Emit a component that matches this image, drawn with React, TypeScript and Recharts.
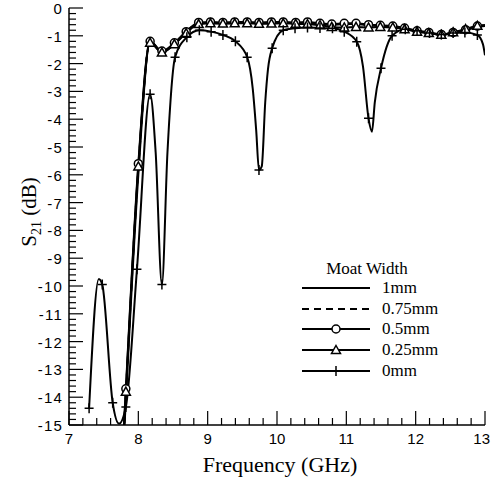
import React from 'react';
import { ComposedChart, Line, XAxis, YAxis } from 'recharts';

// frequency grid shared by the four wide-moat curves (GHz)
const MAIN_FREQ = [
  7.78, 7.82, 8.0, 8.17, 8.34, 8.52, 8.69, 8.87, 9.04, 9.22, 9.39, 9.57, 9.74, 9.92, 10.09, 10.27,
  10.44, 10.62, 10.79, 10.97, 11.14, 11.32, 11.49, 11.67, 11.84, 12.02, 12.19, 12.37, 12.54, 12.72, 12.89, 13.0,
];

const S21_1MM = [
  -16.0, -14.1, -6.0, -1.22, -1.6, -1.3, -0.88, -0.56, -0.54, -0.55, -0.54, -0.53, -0.55, -0.54, -0.53, -0.55,
  -0.55, -0.58, -0.6, -0.58, -0.58, -0.62, -0.65, -0.68, -0.75, -0.85, -0.9, -0.97, -0.9, -0.8, -0.68, -0.65,
];
const S21_075MM = [
  -15.8, -13.9, -5.8, -1.2, -1.58, -1.28, -0.86, -0.54, -0.52, -0.53, -0.52, -0.52, -0.53, -0.52, -0.52, -0.53,
  -0.52, -0.56, -0.59, -0.56, -0.57, -0.61, -0.63, -0.66, -0.74, -0.83, -0.89, -0.96, -0.89, -0.79, -0.66, -0.63,
];
const S21_05MM = [
  -15.6, -13.7, -5.6, -1.2, -1.55, -1.25, -0.85, -0.52, -0.5, -0.52, -0.5, -0.5, -0.52, -0.5, -0.5, -0.52,
  -0.5, -0.55, -0.58, -0.55, -0.55, -0.6, -0.62, -0.65, -0.72, -0.82, -0.88, -0.95, -0.88, -0.78, -0.65, -0.62,
];
const S21_025MM = [
  -15.7, -13.8, -5.7, -1.25, -1.6, -1.3, -0.9, -0.58, -0.55, -0.56, -0.55, -0.55, -0.57, -0.56, -0.55, -0.57,
  -0.58, -0.62, -0.68, -0.7, -0.68, -0.7, -0.68, -0.7, -0.76, -0.85, -0.9, -0.96, -0.87, -0.76, -0.64, -0.62,
];

// 0mm: sampled points (drawn with markers) and extra points on the notches
const FREQ_0MM = [
  7.29, 7.48, 7.63, 7.82, 7.98, 8.17, 8.34, 8.53, 8.7, 8.88, 9.05, 9.22, 9.4, 9.57, 9.74, 9.93, 10.09,
  10.26, 10.44, 10.62, 10.8, 10.97, 11.15, 11.32, 11.5, 11.66, 11.85, 12.02, 12.2, 12.37, 12.54, 12.71, 12.89,
];
const S21_0MM = [
  -14.4, -9.95, -14.2, -14.35, -9.4, -3.1, -9.95, -1.77, -1.05, -0.8, -0.85, -0.97, -1.2, -1.77, -5.83, -1.45, -0.8,
  -0.73, -0.7, -0.72, -0.73, -0.85, -1.21, -3.97, -2.17, -1.0, -0.76, -0.82, -0.9, -0.95, -0.9, -0.88, -0.97,
];
const FREQ_0MM_EXTRA = [7.43, 7.72, 8.25, 8.42, 9.65, 9.7, 9.78, 9.83, 9.87, 11.24, 11.37, 11.41, 12.97, 13.0];
const S21_0MM_EXTRA = [-9.75, -14.95, -5.2, -5.2, -2.9, -4.4, -5.7, -3.4, -2.2, -2.1, -4.45, -3.4, -1.3, -1.7];

const FREQ_TICKS = [7, 8, 9, 10, 11, 12, 13];
const S21_TICKS = [0, -1, -2, -3, -4, -5, -6, -7, -8, -9, -10, -11, -12, -13, -14, -15];

const LEGEND_TITLE = 'Moat Width';
const LABELS = ['1mm', '0.75mm', '0.5mm', '0.25mm', '0mm'];

type Pt = { f: number; v: number };
const zip = (fs: number[], vs: number[]): Pt[] => fs.map((f, i) => ({ f, v: vs[i] }));

const mainSeries = [S21_1MM, S21_075MM, S21_05MM, S21_025MM].map((vals) => zip(MAIN_FREQ, vals));
const zeroMarks = zip(FREQ_0MM, S21_0MM);
const zeroCurve = [...zeroMarks, ...zip(FREQ_0MM_EXTRA, S21_0MM_EXTRA)].sort((a, b) => a.f - b.f);

// minor ticks every 0.2 between the majors
const withMinor = (majors: number[]) => {
  const out: number[] = [];
  majors.forEach((m, i) => {
    out.push(m);
    if (i < majors.length - 1) {
      const step = (majors[i + 1] - m) / 5;
      for (let k = 1; k < 5; k++) out.push(+(m + k * step).toFixed(3));
    }
  });
  return out;
};
const xTicks = withMinor(FREQ_TICKS);
const yTicks = withMinor(S21_TICKS);

const isMajor = (v: number) => Math.abs(v - Math.round(v)) < 1e-6;
const TICK_FONT = 'Liberation Sans, Arial, sans-serif';
const SERIF = 'Liberation Serif, Times New Roman, serif';

const YTick = (props: any) => {
  const { x, y, payload } = props;
  const major = isMajor(payload.value);
  return (
    <g>
      <line x1={x} x2={x + (major ? 14 : 7)} y1={y} y2={y} stroke="#000" strokeWidth={1.2} />
      {major && (
        <text x={x - 6} y={y + 6} textAnchor="end" fontFamily={TICK_FONT} fontSize={15} letterSpacing={1.2} fill="#000">
          {payload.value}
        </text>
      )}
    </g>
  );
};

const XTick = (props: any) => {
  const { x, y, payload } = props;
  const major = isMajor(payload.value);
  const last = payload.value === FREQ_TICKS[FREQ_TICKS.length - 1];
  return (
    <g>
      <line x1={x} x2={x} y1={y} y2={y - (major ? 14 : 7)} stroke="#000" strokeWidth={1.2} />
      {major && (
        <text x={last ? x + 5 : x} y={y + 19} textAnchor={last ? 'end' : 'middle'} fontFamily={TICK_FONT} fontSize={15} fill="#000">
          {payload.value}
        </text>
      )}
    </g>
  );
};

const Circle = ({ cx, cy }: { cx: number; cy: number }) => (
  <circle cx={cx} cy={cy} r={4} fill="#fff" stroke="#000" strokeWidth={1.5} />
);
const Triangle = ({ cx, cy }: { cx: number; cy: number }) => (
  <path d={`M${cx},${cy - 4.5} L${cx + 4.5},${cy + 3.5} L${cx - 4.5},${cy + 3.5} Z`} fill="#fff" stroke="#000" strokeWidth={1.5} />
);
const Plus = ({ cx, cy }: { cx: number; cy: number }) => (
  <path d={`M${cx - 4.5},${cy} H${cx + 4.5} M${cx},${cy - 5} V${cy + 5}`} stroke="#000" strokeWidth={1.5} fill="none" />
);

const markerDot = (Shape: React.FC<{ cx: number; cy: number }>, skipEnds: boolean, n: number) => (p: any) => {
  if (skipEnds && (p.index === 0 || p.index === n - 1)) return <g key={p.index} />;
  if (p.cy == null || p.cy > 426) return <g key={p.index} />;
  return <Shape key={p.index} cx={p.cx} cy={p.cy} />;
};

const Legend = () => {
  const rows = [288, 309, 329, 350, 371];
  const shapes = [null, null, Circle, Triangle, Plus];
  return (
    <svg width={491} height={482} style={{ position: 'absolute', left: 0, top: 0, pointerEvents: 'none' }}>
      <text x={367} y={274} textAnchor="middle" fontFamily={SERIF} fontSize={17}>
        {LEGEND_TITLE}
      </text>
      {LABELS.map((label, i) => {
        const S = shapes[i];
        return (
          <g key={label}>
            <line x1={302} x2={370} y1={rows[i]} y2={rows[i]} stroke="#000" strokeWidth={2}
              strokeDasharray={i === 1 ? '7 5' : undefined} />
            {S && <S cx={336} cy={rows[i]} />}
            <text x={382} y={rows[i] + 5} fontFamily={SERIF} fontSize={17}>
              {label}
            </text>
          </g>
        );
      })}
    </svg>
  );
};

export default function App() {
  const n = MAIN_FREQ.length;
  return (
    <div style={{ position: 'relative', width: 491, height: 482 }}>
      <style>{'body{margin:0}'}</style>
      <ComposedChart width={491} height={482} margin={{ top: 8, right: 6, left: 0, bottom: 0 }}>
        <XAxis
          type="number"
          dataKey="f"
          domain={[7, 13]}
          ticks={xTicks}
          interval={0}
          allowDataOverflow
          height={57}
          tickSize={0}
          tickMargin={0}
          tickLine={false}
          tick={<XTick />}
          axisLine={{ stroke: '#000', strokeWidth: 1.5 }}
        />
        <YAxis
          type="number"
          dataKey="v"
          domain={[-15, 0]}
          ticks={yTicks}
          interval={0}
          allowDataOverflow
          width={69}
          tickSize={0}
          tickMargin={0}
          tickLine={false}
          tick={<YTick />}
          axisLine={{ stroke: '#000', strokeWidth: 1.5 }}
        />
        <Line data={mainSeries[0]} dataKey="v" type="monotone" stroke="#000" strokeWidth={2} dot={false} isAnimationActive={false} />
        <Line data={mainSeries[1]} dataKey="v" type="monotone" stroke="#000" strokeWidth={2} strokeDasharray="7 5" dot={false} isAnimationActive={false} />
        <Line data={mainSeries[2]} dataKey="v" type="monotone" stroke="#000" strokeWidth={2} dot={markerDot(Circle, true, n)} isAnimationActive={false} />
        <Line data={mainSeries[3]} dataKey="v" type="monotone" stroke="#000" strokeWidth={2} dot={markerDot(Triangle, true, n)} isAnimationActive={false} />
        <Line data={zeroCurve} dataKey="v" type="monotone" stroke="#000" strokeWidth={2} dot={false} isAnimationActive={false} />
        <Line data={zeroMarks} dataKey="v" type="monotone" stroke="none" dot={markerDot(Plus, false, zeroMarks.length)} isAnimationActive={false} />
        <text x={280} y={472} textAnchor="middle" fontFamily={SERIF} fontSize={22}>
          Frequency (GHz)
        </text>
        <text transform="translate(36,212) rotate(-90)" textAnchor="middle" fontFamily={SERIF} fontSize={21}>
          S<tspan fontSize={14} dy={5}>21</tspan>
          <tspan dy={-5}> (dB)</tspan>
        </text>
      </ComposedChart>
      <Legend />
    </div>
  );
}
